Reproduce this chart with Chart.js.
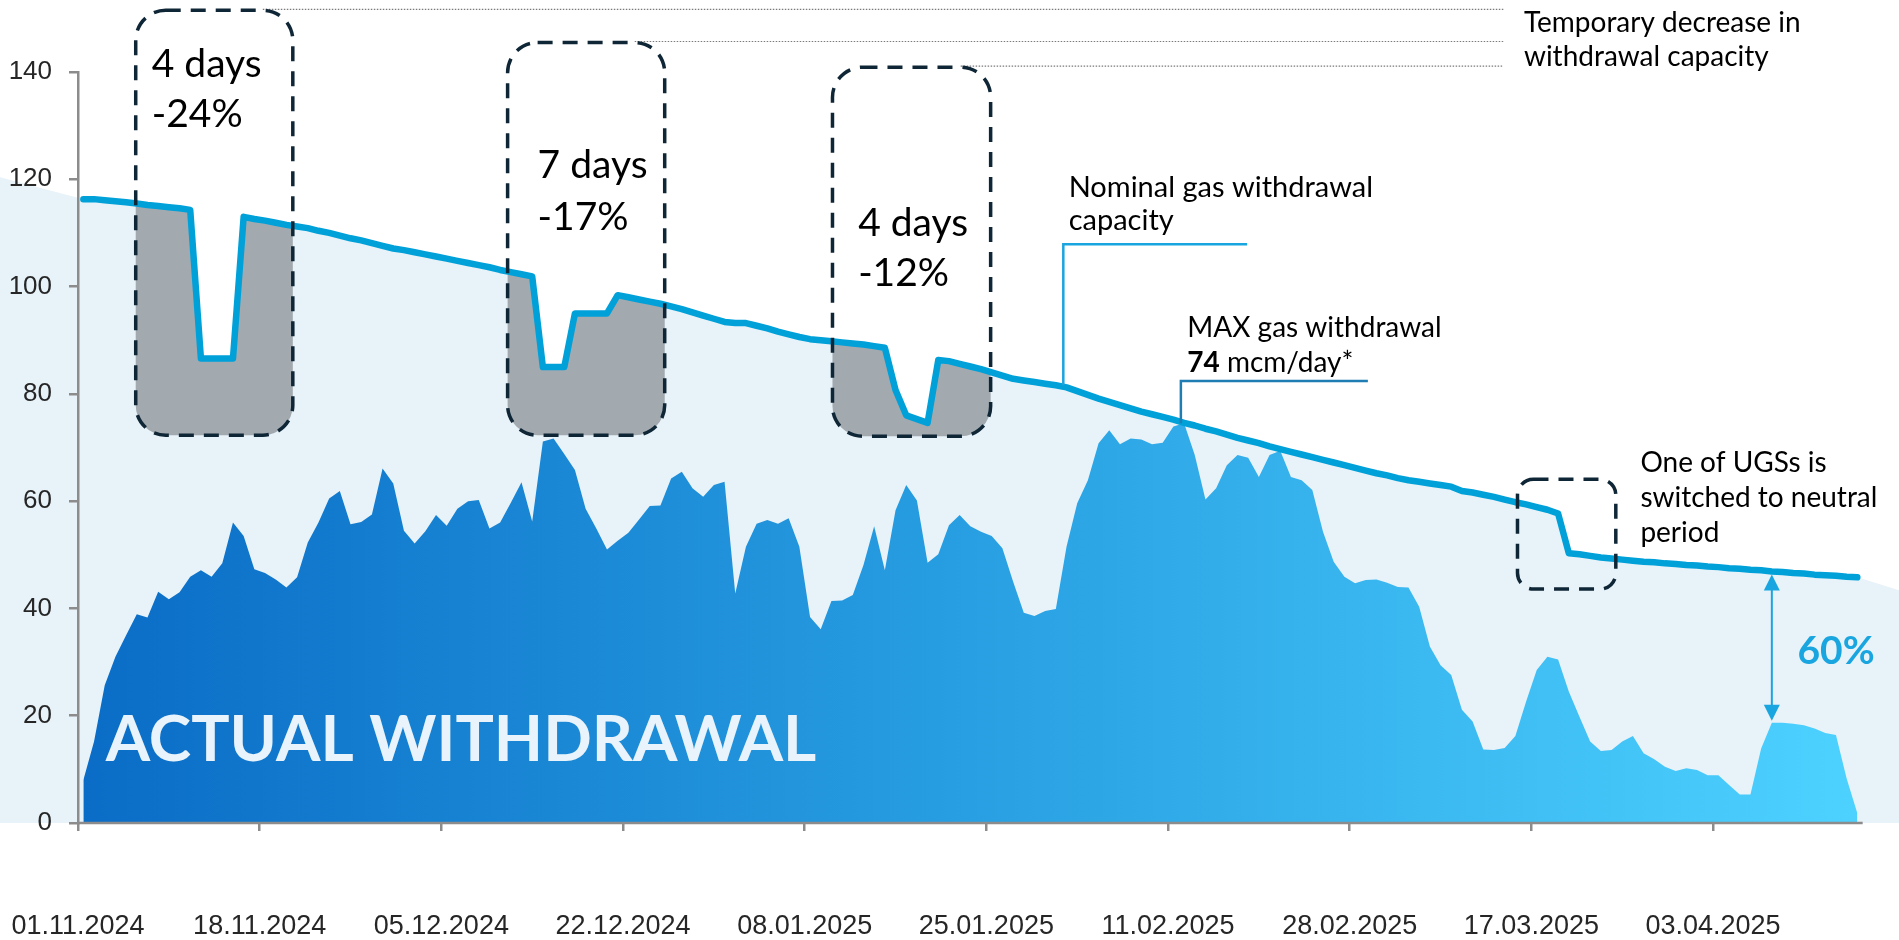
<!DOCTYPE html>
<html>
<head>
<meta charset="utf-8">
<script src="https://cdn.jsdelivr.net/npm/chart.js@4.4.1/dist/chart.umd.min.js"></script>
<style>
  html, body { margin: 0; padding: 0; background: #fff; }
  #wrap { width: 1899px; height: 940px; position: relative; }
</style>
</head>
<body>
<div id="wrap"><canvas id="chart"></canvas></div>
<script>
// one value per day from 01.11.2024 to 16.04.2025, mcm/day
const TICK_DAYS = [0, 17, 34, 51, 68, 85, 102, 119, 136, 153];
const TICK_LABELS = ['01.11.2024', '18.11.2024', '05.12.2024', '22.12.2024', '08.01.2025',
  '25.01.2025', '11.02.2025', '28.02.2025', '17.03.2025', '03.04.2025'];
const Y_TICKS = [0, 20, 40, 60, 80, 100, 120, 140];

const NOMINAL = [
  116.3, 116.3, 116.1, 115.9, 115.7, 115.5, 115.2, 115.0, 114.8, 114.6,
  114.3, 86.6, 86.6, 86.6, 86.6, 113.0, 112.6, 112.3, 111.9, 111.5,
  111.2, 110.9, 110.4, 110.0, 109.5, 109.0, 108.6, 108.1, 107.6, 107.1,
  106.8, 106.4, 106.0, 105.6, 105.2, 104.8, 104.4, 104.0, 103.6, 103.1,
  102.7, 102.3, 101.9, 85.0, 85.0, 85.0, 95.0, 95.0, 95.0, 95.0,
  98.4, 98.0, 97.6, 97.2, 96.8, 96.3, 95.8, 95.2, 94.6, 94.0,
  93.4, 93.2, 93.2, 92.7, 92.2, 91.6, 91.1, 90.6, 90.2, 90.0,
  89.8, 89.6, 89.4, 89.2, 88.9, 88.6, 80.7, 76.0, 75.3, 74.6,
  86.3, 86.1, 85.6, 85.1, 84.6, 84.0, 83.4, 82.8, 82.5, 82.2,
  81.9, 81.6, 81.2, 80.5, 79.8, 79.1, 78.5, 77.9, 77.3, 76.7,
  76.2, 75.7, 75.2, 74.6, 74.1, 73.5, 73.0, 72.4, 71.8, 71.3,
  70.8, 70.2, 69.7, 69.2, 68.7, 68.2, 67.7, 67.2, 66.7, 66.2,
  65.7, 65.2, 64.8, 64.3, 63.9, 63.6, 63.3, 63.0, 62.7, 61.9,
  61.6, 61.2, 60.8, 60.3, 59.8, 59.4, 58.9, 58.4, 57.7, 50.3,
  50.1, 49.8, 49.5, 49.3, 49.1, 48.9, 48.7, 48.6, 48.4, 48.3,
  48.1, 48.0, 47.8, 47.7, 47.5, 47.4, 47.2, 47.1, 46.9, 46.8,
  46.6, 46.5, 46.3, 46.2, 46.1, 45.9, 45.8
];

const ACTUAL = [
  8.0, 15.2, 25.7, 31.0, 35.0, 38.9, 38.3, 43.1, 41.7, 43.0,
  45.9, 47.1, 45.9, 48.4, 56.0, 53.5, 47.3, 46.6, 45.4, 43.9,
  45.8, 52.3, 56.0, 60.5, 61.9, 55.7, 56.1, 57.5, 66.1, 63.3,
  54.5, 52.1, 54.4, 57.4, 55.4, 58.6, 60.0, 60.2, 54.9, 56.0,
  59.7, 63.5, 56.2, 71.1, 71.7, 68.8, 65.8, 58.6, 54.9, 51.0,
  52.6, 54.1, 56.6, 59.1, 59.2, 64.2, 65.5, 62.4, 60.8, 63.0,
  63.6, 42.8, 51.5, 55.8, 56.5, 55.8, 56.8, 51.5, 38.4, 36.1,
  41.4, 41.5, 42.5, 48.1, 55.3, 47.1, 58.3, 63.0, 60.1, 48.5,
  50.1, 55.5, 57.4, 55.3, 54.3, 53.5, 51.2, 45.0, 39.2, 38.6,
  39.5, 39.9, 51.5, 59.6, 63.9, 70.8, 73.2, 70.6, 71.7, 71.5,
  70.6, 70.9, 73.9, 74.5, 68.6, 60.3, 62.4, 66.7, 68.6, 68.1,
  64.5, 68.6, 69.4, 64.5, 63.9, 62.1, 54.3, 48.7, 45.9, 44.7,
  45.3, 45.4, 44.8, 44.0, 43.9, 40.3, 32.9, 29.4, 27.6, 21.1,
  18.9, 13.7, 13.6, 14.0, 16.2, 22.6, 28.5, 31.0, 30.5, 24.5,
  19.8, 15.2, 13.4, 13.6, 15.2, 16.2, 13.0, 11.9, 10.5, 9.7,
  10.2, 9.9, 8.9, 8.9, 7.1, 5.3, 5.3, 13.9, 18.7, 18.7,
  18.5, 18.2, 17.6, 16.8, 16.4, 8.3, 1.8
];

// the pale backdrop runs on past both ends of the nominal curve
const BACKDROP_START = { x: -7.3, y: 120.4 };
const BACKDROP_END = { x: 170.4, y: 43.4 };

const GAP_DAY = 158; // where the 60% arrow sits

// dashed frames around the capacity cuts, in axis units
const FRAMES = [
  { x0: 5.4, x1: 20.1, y0: 72.3, y1: 151.5, r: 30, grey: true, lines: ['4 days', '-24%'], tx: 6.9, ty: [139.0, 129.7] },
  { x0: 40.2, x1: 54.9, y0: 72.3, y1: 145.5, r: 30, grey: true, lines: ['7 days', '-17%'], tx: 43.0, ty: [120.2, 110.5] },
  { x0: 70.6, x1: 85.4, y0: 72.1, y1: 140.9, r: 30, grey: true, lines: ['4 days', '-12%'], tx: 73.0, ty: [109.4, 100.1] },
  { x0: 134.7, x1: 143.9, y0: 43.6, y1: 64.1, r: 16, grey: false, lines: [] }
];

const FONT_TEXT = 'Lato, "Open Sans", sans-serif';
const FONT_AXIS = '"Liberation Sans", Arial, sans-serif';

const pts = (arr) => arr.map((v, i) => ({ x: i + 0.5, y: v }));
const nominalPts = pts(NOMINAL);
const actualPts = pts(ACTUAL);
const backdropPts = [BACKDROP_START].concat(nominalPts, [BACKDROP_END]);

function framePath(ctx, chart, f) {
  const xs = chart.scales.x, ys = chart.scales.y;
  const l = xs.getPixelForValue(f.x0), r = xs.getPixelForValue(f.x1);
  const t = ys.getPixelForValue(f.y1), b = ys.getPixelForValue(f.y0);
  ctx.moveTo(l + f.r, t);
  ctx.arcTo(r, t, r, b, f.r);
  ctx.arcTo(r, b, l, b, f.r);
  ctx.arcTo(l, b, l, t, f.r);
  ctx.arcTo(l, t, r, t, f.r);
  ctx.closePath();
}

function arrowHead(ctx, x, y, dir) {
  ctx.beginPath();
  ctx.moveTo(x, y);
  ctx.lineTo(x - 8, y + dir * 16);
  ctx.lineTo(x + 8, y + dir * 16);
  ctx.closePath();
  ctx.fill();
}

const overlay = {
  id: 'overlay',
  // the grey fill is only shown inside the frames
  afterDatasetDraw(chart, args) {
    const label = chart.data.datasets[args.index].label;
    const ctx = chart.ctx;
    if (label === 'Backdrop') {
      ctx.save();
      ctx.beginPath();
      FRAMES.filter(f => f.grey).forEach(f => framePath(ctx, chart, f));
      ctx.clip();
    } else if (label === 'Reduced capacity') {
      ctx.restore();
    }
  },
  afterDatasetsDraw(chart) {
    const ctx = chart.ctx;
    const xs = chart.scales.x, ys = chart.scales.y;
    const px = (v) => xs.getPixelForValue(v);
    const py = (v) => ys.getPixelForValue(v);
    ctx.save();

    // x axis line
    ctx.strokeStyle = '#8c8c8c';
    ctx.lineWidth = 2.5;
    ctx.beginPath();
    ctx.moveTo(px(0), py(0));
    ctx.lineTo(px(NOMINAL.length), py(0));
    ctx.stroke();

    // dotted leaders to the note at top right
    ctx.strokeStyle = '#7a7a7a';
    ctx.lineWidth = 1.2;
    ctx.setLineDash([1.5, 1.5]);
    FRAMES.filter(f => f.grey).forEach(f => {
      const y = py(f.y1) - 1;
      ctx.beginPath();
      ctx.moveTo(px(f.x1) - f.r, y);
      ctx.lineTo(px(133.4), y);
      ctx.stroke();
    });

    // dashed frames
    ctx.strokeStyle = '#0f2636';
    ctx.lineWidth = 3.5;
    ctx.setLineDash([15, 10]);
    FRAMES.forEach(f => {
      ctx.beginPath();
      framePath(ctx, chart, f);
      ctx.stroke();
    });
    ctx.setLineDash([]);

    // frame texts
    ctx.fillStyle = '#000';
    ctx.textBaseline = 'alphabetic';
    ctx.font = '39px ' + FONT_TEXT;
    FRAMES.forEach(f => f.lines.forEach((t, i) => ctx.fillText(t, px(f.tx), py(f.ty[i]))));

    // notes
    const note = '28px ' + FONT_TEXT;
    ctx.font = note;
    ctx.fillText('Temporary decrease in', px(135.3), py(147.4));
    ctx.fillText('withdrawal capacity', px(135.3), py(141.1));
    ctx.font = '29px ' + FONT_TEXT;
    ctx.fillText('Nominal gas withdrawal', px(92.7), py(116.7));
    ctx.fillText('capacity', px(92.7), py(110.5));
    ctx.font = note;
    ctx.fillText('MAX gas withdrawal', px(103.8), py(90.6));
    ctx.font = 'bold ' + note;
    ctx.fillText('74', px(103.8), py(84.0));
    const w74 = ctx.measureText('74').width;
    ctx.font = note;
    ctx.fillText(' mcm/day*', px(103.8) + w74, py(84.0));
    ctx.fillText('One of UGSs is', px(146.2), py(65.4));
    ctx.fillText('switched to neutral', px(146.2), py(58.9));
    ctx.fillText('period', px(146.2), py(52.4));

    // callout connectors
    ctx.lineWidth = 2.5;
    ctx.strokeStyle = '#19a5df';
    ctx.beginPath();
    ctx.moveTo(px(92.2), py(NOMINAL[91]));
    ctx.lineTo(px(92.2), py(107.9));
    ctx.lineTo(px(109.4), py(107.9));
    ctx.stroke();
    ctx.strokeStyle = '#1f7db3';
    ctx.beginPath();
    ctx.moveTo(px(103.2), py(ACTUAL[103]));
    ctx.lineTo(px(103.2), py(82.4));
    ctx.lineTo(px(120.7), py(82.4));
    ctx.stroke();

    // gap arrow
    const ax = px(GAP_DAY + 0.5);
    const aTop = py(NOMINAL[GAP_DAY]) + 3;
    const aBot = py(ACTUAL[GAP_DAY]) - 2;
    ctx.strokeStyle = '#19a5df';
    ctx.fillStyle = '#19a5df';
    ctx.lineWidth = 2;
    ctx.beginPath();
    ctx.moveTo(ax, aTop + 10);
    ctx.lineTo(ax, aBot - 10);
    ctx.stroke();
    arrowHead(ctx, ax, aTop, 1);
    arrowHead(ctx, ax, aBot, -1);
    ctx.font = 'bold 39px ' + FONT_TEXT;
    ctx.fillText('60%', px(160.9), py(29.6));

    // big label on the area
    ctx.fillStyle = '#e8f3fb';
    ctx.font = 'bold 64px ' + FONT_TEXT;
    ctx.fillText('ACTUAL WITHDRAWAL', px(2.6), py(11.55));
    ctx.restore();
  }
};

function actualFill(context) {
  const chart = context.chart;
  if (!chart.chartArea) return '#1e8fdb';
  const xs = chart.scales.x;
  const g = chart.ctx.createLinearGradient(xs.getPixelForValue(0), 0, xs.getPixelForValue(NOMINAL.length), 0);
  g.addColorStop(0, '#0a6cc6');
  g.addColorStop(0.5, '#289fe2');
  g.addColorStop(1, '#4dd2ff');
  return g;
}

const yRange = { min: 0, max: 140 };
const noWidth = (axis) => { axis.width = 0; };
const yTicks = (axis) => { axis.ticks = Y_TICKS.map(v => ({ value: v })); };

new Chart(document.getElementById('chart'), {
  type: 'line',
  data: {
    datasets: [
      {
        label: 'Nominal gas withdrawal capacity',
        data: nominalPts,
        borderColor: '#00a0d9',
        borderWidth: 6.5,
        borderJoinStyle: 'round',
        borderCapStyle: 'round',
        fill: false,
        order: 0
      },
      {
        label: 'Actual withdrawal',
        data: actualPts,
        borderColor: 'rgba(0,0,0,0)',
        borderWidth: 0,
        backgroundColor: actualFill,
        fill: 'origin',
        order: 1
      },
      {
        label: 'Reduced capacity',
        data: nominalPts,
        borderColor: 'rgba(0,0,0,0)',
        borderWidth: 0,
        backgroundColor: '#a2a9af',
        fill: 'origin',
        order: 2
      },
      {
        label: 'Backdrop',
        data: backdropPts,
        borderColor: 'rgba(0,0,0,0)',
        borderWidth: 0,
        backgroundColor: '#e7f2f9',
        fill: 'origin',
        order: 3
      }
    ]
  },
  options: {
    responsive: true,
    maintainAspectRatio: false,
    animation: false,
    events: [],
    layout: { padding: { top: 72, left: 0, right: 0, bottom: 0 } },
    elements: { point: { radius: 0 }, line: { tension: 0 } },
    plugins: { legend: { display: false }, tooltip: { enabled: false } },
    scales: {
      x: {
        type: 'linear',
        min: -7.3,
        max: 170.4,
        afterBuildTicks: (axis) => { axis.ticks = TICK_DAYS.map(v => ({ value: v })); },
        // the plot runs edge to edge, so no room is kept for label overhang
        afterFit: (axis) => { axis.height = 117; axis.paddingLeft = 0; axis.paddingRight = 0; },
        ticks: {
          z: 1,
          autoSkip: false,
          maxRotation: 0,
          padding: 82,
          color: '#262626',
          font: { family: FONT_AXIS, size: 27, lineHeight: 1 },
          callback: (v) => TICK_LABELS[TICK_DAYS.indexOf(v)]
        },
        grid: { z: 1, drawOnChartArea: false, tickLength: 8, color: '#8c8c8c', lineWidth: 2.5 },
        border: { display: false }
      },
      // axis line and tick marks, standing at day 0
      y: {
        position: { x: 0 },
        ...yRange,
        afterBuildTicks: yTicks,
        afterFit: noWidth,
        ticks: { display: false },
        grid: { z: 1, drawOnChartArea: false, tickLength: 8, color: '#8c8c8c', lineWidth: 2.5 },
        border: { z: 1, display: true, color: '#8c8c8c', width: 2.5 }
      },
      // tick labels, set a little left of the axis line
      yLabels: {
        position: { x: -2.43 },
        ...yRange,
        afterBuildTicks: yTicks,
        afterFit: noWidth,
        ticks: { z: 1, color: '#262626', font: { family: FONT_AXIS, size: 26 } },
        grid: { display: false },
        border: { display: false }
      }
    }
  },
  plugins: [overlay]
});
</script>
</body>
</html>
